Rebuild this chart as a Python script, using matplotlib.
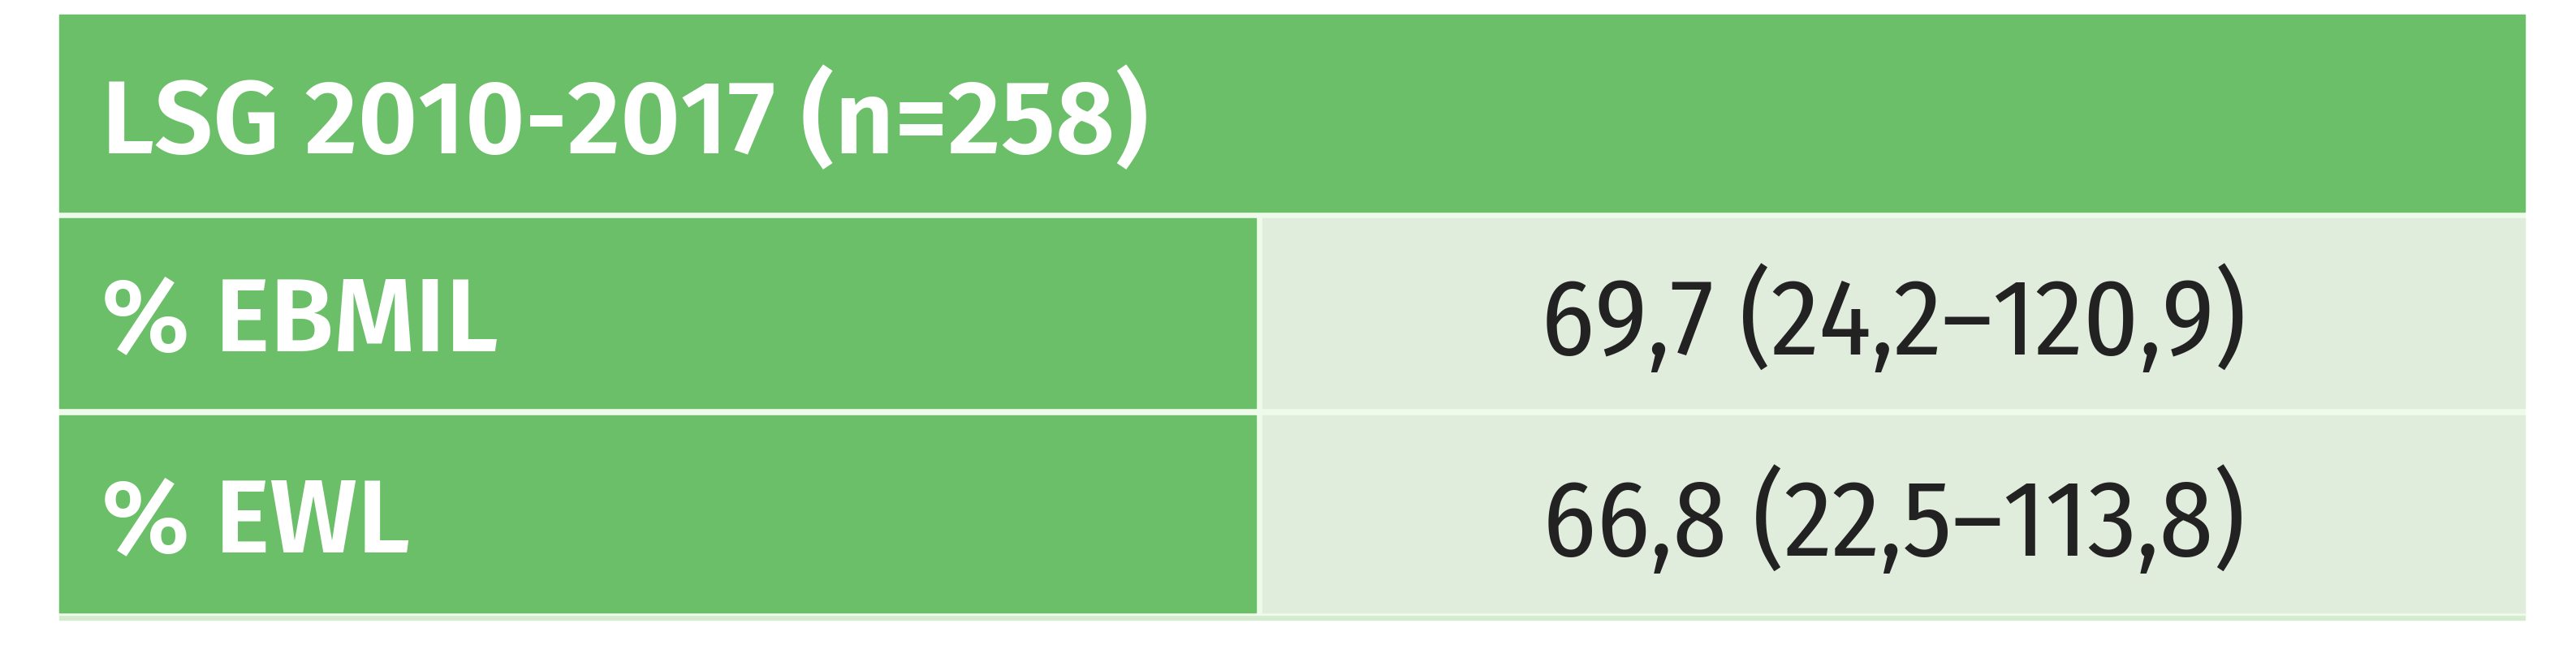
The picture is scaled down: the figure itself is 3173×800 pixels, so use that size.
import matplotlib.pyplot as plt
from matplotlib.patches import Rectangle

header = "LSG 2010-2017 (n=258)"
row_labels = ["% EBMIL", "% EWL"]
row_values = ["69,7 (24,2–120,9)", "66,8 (22,5–113,8)"]

green = "#6bbf69"
light = "#e1eddc"
gap = "#eefaea"
label_font = ["Fira Sans", "Asap Condensed", "Liberation Sans", "DejaVu Sans"]
value_font = ["Fira Sans Condensed", "Asap Condensed", "Liberation Sans", "DejaVu Sans"]

fig = plt.figure(figsize=(31.73, 8), dpi=100)
ax = fig.add_axes([0, 0, 1, 1])
ax.set_xlim(0, 3173)
ax.set_ylim(800, 0)
ax.axis("off")

left, right, split = 73, 3110, 1547
gw = 8

# faint shadow under the table, then the gap colour
ax.add_patch(Rectangle((left, 750), right - left, 14, color="#d4ebd0"))
ax.add_patch(Rectangle((left, 18), right - left, 740, color=gap))

# header
ax.add_patch(Rectangle((left, 18), right - left, 243, color=green))
ax.text(125, 138, header, color="white", fontsize=92, fontweight=600,
        family=label_font, va="center_baseline", ha="left")

row_top = [269, 512]
row_h = [234, 243]
for i, (lab, val) in enumerate(zip(row_labels, row_values)):
    y0 = row_top[i]
    h = row_h[i]
    ax.add_patch(Rectangle((left, y0), split - left, h, color=green))
    ax.add_patch(Rectangle((split + gw, y0), right - split - gw, h, color=light))
    ax.text(125, y0 + h / 2 - 2, lab, color="white", fontsize=92,
            fontweight=600, family=label_font, va="center_baseline", ha="left")
    ax.text((split + gw + right) / 2, y0 + h / 2 - 2, val, color="#222222",
            fontsize=96, family=value_font, va="center_baseline", ha="center")

fig.savefig("out.png", dpi=100, facecolor="white")
